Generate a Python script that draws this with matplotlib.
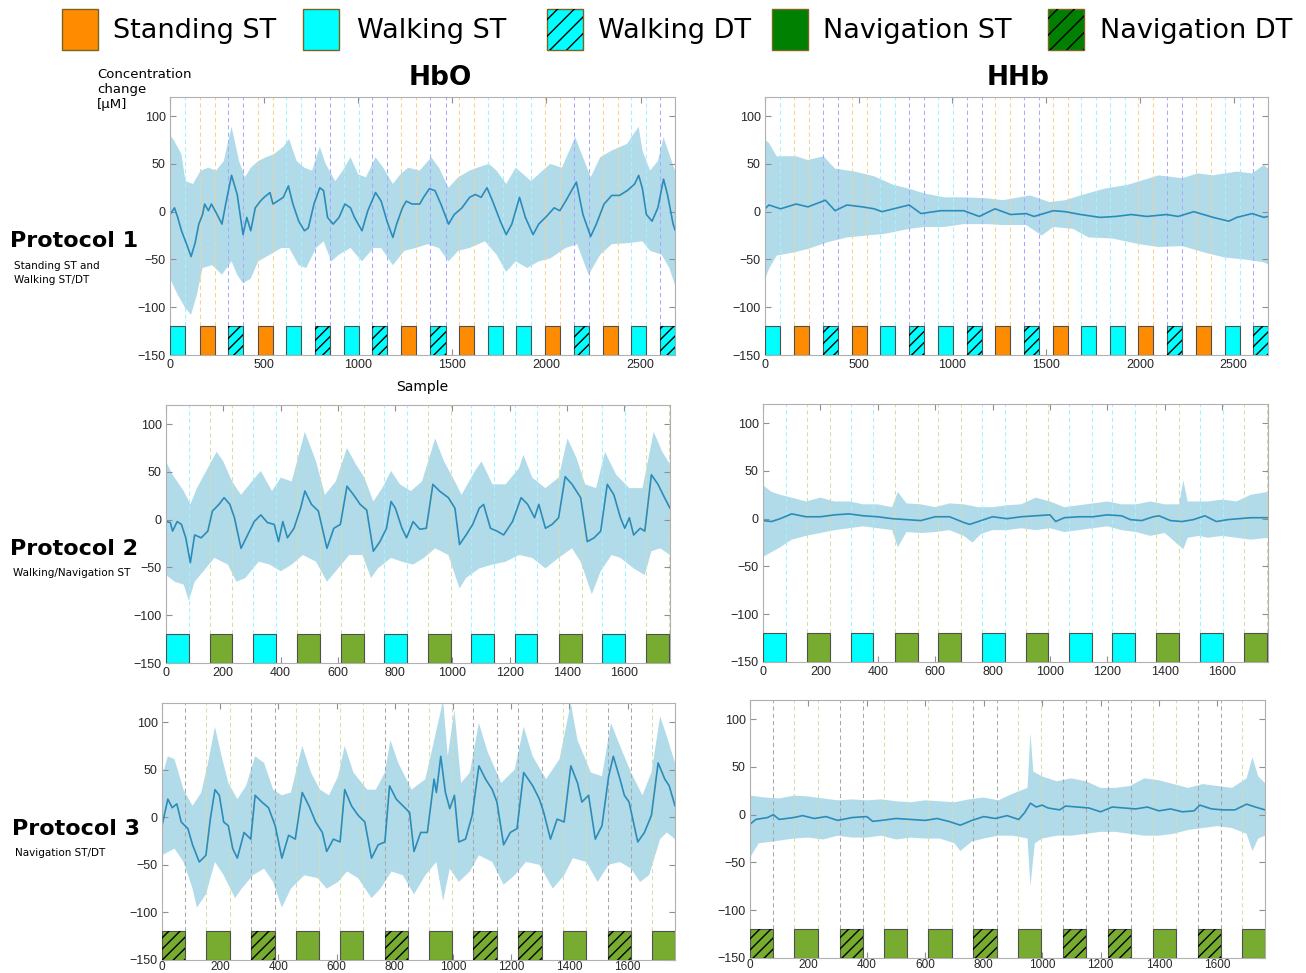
import numpy as np
import matplotlib
matplotlib.use("Agg")
import matplotlib.pyplot as plt
from matplotlib.patches import Rectangle

# ---- block design (onset samples, condition codes) ----
block_len = 80
p1_onsets = [0, 157, 310, 465, 616, 769, 922, 1075, 1229, 1384, 1537, 1688,
             1839, 1992, 2145, 2298, 2451, 2603]
p1_kinds = ['W', 'S', 'WD', 'S', 'W', 'WD', 'W', 'WD', 'S', 'WD', 'S', 'W',
            'W', 'S', 'WD', 'S', 'W', 'WD']
p2_onsets = [0, 152, 305, 459, 610, 763, 915, 1066, 1217, 1371, 1522, 1676]
p2_kinds = ['W', 'N', 'W', 'N', 'N', 'W', 'N', 'W', 'W', 'N', 'W', 'N']
p3_onsets = [0, 152, 307, 459, 611, 765, 917, 1070, 1225, 1378, 1532, 1683]
p3_kinds = ['ND', 'N', 'ND', 'N', 'N', 'ND', 'N', 'ND', 'ND', 'N', 'ND', 'N']

# ---- Protocol 1, HbO ----
p1_hbo_x = [0, 24, 41, 61, 92, 112, 133, 153, 173, 184, 204, 220, 245, 276, 296,
            327, 357, 388, 408, 429, 453, 480, 500, 531, 547, 571, 602, 629, 653,
            684, 714, 735, 765, 796, 816, 837, 867, 898, 929, 959, 980, 1020, 1051,
            1092, 1122, 1153, 1184, 1204, 1235, 1255, 1286, 1327, 1347, 1378, 1408,
            1439, 1480, 1510, 1551, 1592, 1622, 1653, 1684, 1714, 1755, 1786, 1816,
            1857, 1888, 1929, 1959, 2000, 2041, 2071, 2102, 2159, 2194, 2235, 2265,
            2306, 2347, 2388, 2429, 2469, 2490, 2510, 2531, 2561, 2592, 2622, 2643,
            2673, 2683]
p1_hbo_mean = [-3, 4, -6, -20, -36, -47, -33, -13, -3, 8, 1, 8, -1, -13, 8, 38, 18,
               -24, -6, -20, 4, 11, 15, 20, 8, 11, 15, 27, 8, -10, -20, -17, 8, 25,
               22, -6, -13, -6, 8, 4, -6, -20, 1, 20, 11, -10, -27, -13, 4, 11, 8, 8,
               15, 24, 22, 8, -13, -3, 4, 15, 18, 15, 25, 11, -10, -24, -13, 15, -6,
               -24, -13, -5, 4, 1, 11, 31, -3, -26, -13, 8, 17, 17, 22, 29, 38, 24,
               -3, -10, 4, 34, 18, -13, -19]
p1_hbo_ux = [0, 20, 61, 82, 122, 163, 204, 245, 286, 327, 367, 398, 429, 469, 510,
             551, 602, 633, 673, 714, 755, 796, 827, 878, 918, 959, 1000, 1041, 1092,
             1133, 1184, 1224, 1265, 1327, 1388, 1429, 1480, 1531, 1592, 1633, 1694,
             1735, 1786, 1837, 1878, 1918, 1980, 2020, 2082, 2153, 2194, 2235, 2286,
             2347, 2429, 2490, 2510, 2551, 2592, 2622, 2653, 2683]
p1_hbo_hi = [80, 75, 60, 32, 29, 43, 46, 43, 53, 89, 53, 36, 46, 53, 57, 60, 68, 76,
             53, 46, 43, 68, 50, 32, 43, 57, 39, 36, 57, 46, 29, 39, 46, 43, 57, 46,
             25, 36, 43, 46, 50, 43, 29, 46, 39, 32, 43, 50, 46, 78, 57, 36, 57, 64,
             71, 89, 64, 43, 53, 78, 60, 43]
p1_hbo_lx = [0, 41, 82, 112, 143, 173, 224, 276, 327, 357, 388, 429, 469, 531, 592,
             633, 684, 724, 776, 816, 857, 898, 959, 1020, 1082, 1122, 1184, 1245,
             1306, 1367, 1429, 1480, 1531, 1592, 1673, 1735, 1786, 1837, 1898, 1959,
             2020, 2102, 2163, 2224, 2286, 2347, 2429, 2510, 2551, 2612, 2653, 2683]
p1_hbo_lo = [-70, -87, -101, -108, -87, -59, -56, -66, -52, -66, -75, -70, -52, -45,
             -38, -38, -56, -59, -38, -31, -52, -45, -38, -52, -38, -38, -56, -41,
             -38, -34, -38, -52, -41, -38, -31, -45, -63, -52, -59, -52, -49, -38,
             -34, -66, -45, -34, -33, -31, -41, -45, -59, -77]

# ---- Protocol 1, HHb ----
p1_hhb_x = [0, 21, 83, 166, 229, 322, 374, 437, 520, 582, 624, 686, 769, 832, 936,
            1060, 1143, 1227, 1310, 1393, 1435, 1538, 1601, 1684, 1788, 1871, 1954,
            2037, 2141, 2204, 2287, 2391, 2474, 2516, 2599, 2661, 2683]
p1_hhb_mean = [3, 7, 3, 8, 5, 12, 1, 7, 5, 3, 0, 3, 7, -2, 1, 1, -5, 3, -3, -2, -5,
               1, 0, -3, -6, -5, -3, -5, -3, -5, 0, -6, -10, -6, -2, -6, -5]
p1_hhb_ux = [0, 21, 62, 166, 229, 312, 374, 478, 582, 686, 769, 852, 956, 1060, 1185,
             1268, 1414, 1518, 1601, 1684, 1809, 1933, 2100, 2225, 2308, 2391, 2516,
             2599, 2661, 2683]
p1_hhb_hi = [75, 72, 58, 58, 54, 58, 45, 42, 37, 28, 24, 19, 15, 15, 14, 12, 17, 10,
             12, 17, 24, 28, 38, 35, 40, 38, 42, 40, 49, 45]
p1_hhb_lx = [0, 21, 62, 146, 229, 333, 437, 541, 644, 769, 852, 956, 1060, 1185,
             1268, 1393, 1476, 1538, 1643, 1726, 1850, 1996, 2100, 2225, 2349, 2453,
             2557, 2661, 2683]
p1_hhb_lo = [-71, -60, -46, -43, -39, -32, -27, -25, -23, -18, -16, -16, -13, -13,
             -14, -14, -25, -16, -18, -27, -28, -34, -37, -36, -43, -48, -50, -53, -55]

# ---- Protocol 2, HbO ----
p2_hbo_x = [0, 15, 23, 39, 54, 69, 85, 100, 123, 146, 162, 185, 203, 223, 239, 262,
            285, 308, 331, 354, 378, 393, 408, 424, 447, 470, 485, 508, 532, 562, 586,
            609, 632, 655, 678, 701, 724, 747, 770, 786, 801, 824, 840, 863, 886, 909,
            932, 955, 986, 1009, 1025, 1048, 1071, 1094, 1109, 1133, 1156, 1179, 1210,
            1240, 1263, 1287, 1302, 1325, 1348, 1371, 1394, 1418, 1448, 1471, 1495,
            1518, 1541, 1564, 1587, 1602, 1618, 1633, 1656, 1672, 1695, 1718, 1741, 1760]
p2_hbo_mean = [-2, -3, -12, -2, -5, -19, -45, -16, -19, -12, 9, 16, 23, 16, 2, -30,
               -16, -2, 5, -3, -5, -23, -2, -19, -9, 12, 30, 16, 9, -30, -9, -5, 35,
               26, 16, 10, -33, -23, -9, 19, 12, -9, -19, -2, -10, -9, 37, 30, 23, 12,
               -26, -16, -5, 12, 16, -9, -12, -16, -2, 23, 16, 2, 16, -9, -5, 2, 45,
               37, 23, -23, -19, -12, 37, 26, 2, -9, 2, -16, -9, -12, 47, 37, 23, 12]
p2_hbo_ux = [0, 23, 62, 85, 108, 146, 177, 200, 231, 262, 300, 331, 370, 401, 439, 485,
             524, 555, 593, 632, 663, 693, 724, 755, 786, 817, 855, 894, 940, 971, 1009,
             1032, 1079, 1102, 1140, 1186, 1233, 1248, 1279, 1325, 1371, 1402, 1433,
             1464, 1502, 1533, 1572, 1618, 1664, 1703, 1733, 1760]
p2_hbo_hi = [61, 47, 30, 16, 33, 54, 71, 61, 40, 26, 40, 51, 30, 44, 40, 92, 61, 26,
             40, 75, 58, 44, 19, 33, 51, 37, 30, 40, 85, 61, 40, 26, 51, 61, 37, 37,
             54, 68, 44, 33, 44, 85, 65, 37, 33, 71, 47, 33, 33, 92, 71, 58]
p2_hbo_lx = [0, 31, 62, 80, 100, 139, 169, 216, 246, 277, 324, 362, 401, 439, 478, 524,
             562, 601, 640, 686, 716, 740, 786, 824, 863, 901, 940, 986, 1025, 1048,
             1094, 1140, 1186, 1233, 1279, 1325, 1371, 1418, 1448, 1487, 1518, 1556,
             1587, 1633, 1672, 1695, 1726, 1760]
p2_hbo_lo = [-58, -65, -68, -85, -65, -51, -40, -47, -65, -61, -44, -47, -54, -47,
             -37, -44, -65, -51, -37, -37, -61, -51, -40, -44, -47, -40, -30, -37,
             -72, -61, -51, -47, -44, -37, -40, -51, -40, -30, -44, -78, -54, -37,
             -40, -51, -58, -33, -30, -37]

# ---- Protocol 2, HHb ----
p2_hhb_x = [0, 30, 60, 100, 150, 200, 250, 300, 350, 400, 450, 500, 550, 600, 650,
            700, 720, 760, 800, 850, 900, 950, 1000, 1020, 1050, 1100, 1150, 1200,
            1250, 1280, 1320, 1360, 1380, 1420, 1460, 1500, 1540, 1580, 1620, 1660,
            1700, 1760]
p2_hhb_mean = [-2, -3, 0, 5, 2, 2, 4, 5, 3, 2, 0, -1, -2, 2, 2, -4, -6, -2, 2, 0, 2,
               3, 4, -3, 1, 2, 2, 4, 3, -1, -2, 2, 3, -2, -3, -1, 3, -3, -1, 0, 1, 1]
p2_hhb_ux = [0, 30, 60, 100, 150, 200, 250, 300, 350, 400, 450, 470, 500, 550, 600,
             650, 700, 750, 800, 850, 900, 950, 1000, 1050, 1100, 1150, 1200, 1250,
             1300, 1350, 1400, 1450, 1465, 1480, 1550, 1600, 1650, 1700, 1760]
p2_hhb_hi = [35, 28, 25, 22, 18, 22, 18, 18, 15, 15, 12, 28, 16, 15, 12, 16, 15, 12,
             12, 14, 15, 22, 18, 12, 14, 16, 18, 15, 15, 18, 15, 15, 40, 18, 18, 20,
             18, 25, 28]
p2_hhb_lx = [0, 30, 60, 100, 150, 200, 250, 300, 350, 400, 450, 470, 500, 550, 600,
             650, 700, 730, 760, 800, 850, 900, 950, 1000, 1050, 1100, 1150, 1200,
             1250, 1300, 1350, 1400, 1465, 1480, 1520, 1550, 1600, 1650, 1700, 1760]
p2_hhb_lo = [-40, -35, -30, -22, -18, -15, -12, -10, -8, -10, -12, -30, -14, -15,
             -14, -12, -18, -25, -16, -12, -12, -10, -12, -10, -14, -12, -10, -8,
             -12, -14, -18, -15, -32, -20, -18, -20, -18, -20, -22, -20]

# ---- Protocol 3, HbO ----
p3_hbo_x = [0, 20, 35, 51, 66, 89, 105, 128, 151, 166, 182, 197, 212, 228, 243, 259,
            282, 305, 320, 343, 366, 389, 412, 435, 458, 482, 505, 528, 551, 566, 589,
            612, 628, 651, 674, 697, 720, 743, 766, 782, 805, 828, 851, 866, 889, 912,
            935, 943, 958, 974, 989, 1005, 1020, 1043, 1066, 1089, 1112, 1135, 1151,
            1174, 1197, 1220, 1243, 1274, 1297, 1312, 1335, 1358, 1382, 1405, 1428,
            1443, 1466, 1489, 1512, 1535, 1551, 1574, 1589, 1605, 1635, 1658, 1682,
            1705, 1728, 1743, 1763]
p3_hbo_mean = [-9, 19, 10, 14, -5, -12, -29, -47, -40, -2, 29, 23, -5, -9, -33, -43,
               -16, -23, 23, 16, 10, -9, -43, -19, -23, 26, 12, -5, -16, -36, -23,
               -26, 29, 12, 2, -5, -43, -29, -26, 33, 19, 12, 5, -36, -16, -16, 40,
               26, 64, 26, 9, 23, -26, -23, 2, 54, 40, 29, 16, -29, -16, -12, 47, 33,
               19, 5, -23, -2, -5, 54, 36, 16, 23, -23, -9, 43, 64, 40, 23, 16, -26,
               -16, 2, 57, 40, 33, 12]
p3_hbo_ux = [0, 20, 43, 74, 105, 135, 158, 182, 205, 228, 259, 289, 320, 351, 382, 412,
             443, 482, 512, 543, 574, 605, 628, 658, 705, 735, 766, 785, 812, 858, 905,
             951, 966, 982, 1005, 1028, 1058, 1089, 1120, 1166, 1212, 1243, 1274, 1320,
             1366, 1405, 1428, 1474, 1512, 1543, 1574, 1612, 1651, 1682, 1712, 1735, 1763]
p3_hbo_hi = [43, 64, 61, 29, 12, 26, 57, 95, 64, 36, 19, 33, 64, 57, 29, 23, 26, 75,
             47, 29, 23, 43, 75, 47, 29, 29, 47, 81, 57, 29, 40, 102, 123, 64, 113, 36,
             47, 99, 68, 36, 50, 95, 64, 40, 61, 120, 81, 47, 43, 99, 75, 47, 23, 47,
             106, 85, 57]
p3_hbo_lx = [0, 43, 74, 105, 120, 151, 182, 212, 251, 274, 312, 351, 382, 412, 443,
             489, 535, 566, 605, 636, 674, 720, 751, 789, 828, 866, 905, 943, 966, 989,
             1020, 1058, 1089, 1135, 1174, 1212, 1251, 1297, 1343, 1382, 1412, 1458,
             1497, 1535, 1574, 1612, 1643, 1674, 1712, 1735, 1763]
p3_hbo_lo = [-40, -33, -47, -75, -95, -81, -47, -61, -85, -75, -61, -54, -68, -95,
             -75, -61, -64, -75, -68, -57, -64, -85, -75, -57, -61, -81, -61, -47,
             -88, -54, -68, -57, -40, -47, -71, -61, -47, -50, -75, -61, -43, -47,
             -68, -50, -47, -54, -68, -61, -23, -16, -23]

# ---- Protocol 3, HHb ----
p3_hhb_x = [0, 20, 60, 80, 100, 150, 180, 220, 260, 300, 350, 400, 420, 450, 500, 550,
            600, 640, 680, 720, 760, 800, 840, 880, 920, 940, 960, 980, 1000, 1020,
            1060, 1080, 1120, 1160, 1200, 1240, 1280, 1320, 1360, 1400, 1440, 1480,
            1520, 1540, 1580, 1620, 1660, 1700, 1730, 1763]
p3_hhb_mean = [-10, -5, -3, 0, -5, -3, -1, -4, -2, -6, -3, -2, -7, -6, -4, -5, -6, -4,
               -7, -11, -6, -2, -4, -1, -5, 2, 12, 8, 10, 7, 5, 9, 8, 7, 3, 8, 7, 6,
               8, 4, 6, 3, 4, 10, 6, 5, 5, 11, 8, 5]
p3_hhb_ux = [0, 50, 100, 150, 200, 250, 300, 350, 400, 450, 500, 550, 600, 650, 700,
             750, 800, 850, 900, 950, 960, 970, 1000, 1050, 1100, 1150, 1200, 1250,
             1300, 1350, 1400, 1450, 1500, 1550, 1600, 1650, 1700, 1720, 1740, 1763]
p3_hhb_hi = [20, 18, 17, 20, 19, 17, 15, 16, 15, 16, 14, 13, 15, 14, 13, 16, 18, 15,
             22, 28, 85, 45, 40, 35, 38, 35, 28, 28, 30, 38, 36, 32, 28, 32, 30, 28,
             38, 60, 40, 33]
p3_hhb_lx = [0, 30, 80, 150, 200, 250, 300, 350, 400, 450, 500, 550, 600, 650, 700,
             720, 760, 800, 850, 900, 950, 960, 975, 1000, 1050, 1100, 1150, 1200, 1250,
             1300, 1350, 1400, 1450, 1500, 1550, 1600, 1650, 1700, 1720, 1740, 1763]
p3_hhb_lo = [-45, -30, -28, -25, -24, -26, -22, -24, -24, -22, -26, -24, -25, -25,
             -30, -38, -28, -25, -22, -22, -25, -75, -30, -25, -22, -22, -20, -18,
             -18, -20, -22, -22, -20, -16, -14, -12, -14, -20, -38, -25, -22]

# ---- styles ----
BAR_COLOR = {'S': '#ff8c00', 'W': '#00ffff', 'WD': '#00ffff',
             'N': '#77ac30', 'ND': '#77ac30'}
BAR_HATCH = {'S': None, 'W': None, 'WD': '///', 'N': None, 'ND': '///'}
VLINE_COLOR = {'S': '#f8d090', 'W': '#a0f4ff', 'WD': '#a8a8ff',
               'N': '#d6dcaa', 'ND': '#a8a8a8'}
LINE_COLOR = '#2c8cb8'
BAND_COLOR = '#b2dbea'

plt.rcParams['font.family'] = ['DejaVu Sans']
plt.rcParams['hatch.linewidth'] = 1.0

fig = plt.figure(figsize=(13.06, 9.73), dpi=100)
W, H = 1306, 973


def px_axes(left, top, right, bottom):
    return fig.add_axes([left / W, 1 - bottom / H, (right - left) / W, (bottom - top) / H])


def draw_panel(ax, onsets, kinds, mx, my, ux, uy, lx, ly, xmax, xticks):
    for on, k in zip(onsets, kinds):
        for xv in (on, on + block_len):
            ax.axvline(xv, color=VLINE_COLOR[k], lw=0.75, ls=(0, (4, 3)), zorder=1.5)
    ax.fill(list(ux) + list(lx)[::-1], list(uy) + list(ly)[::-1],
            color=BAND_COLOR, lw=0, zorder=1)
    ax.plot(mx, my, color=LINE_COLOR, lw=1.2, zorder=2)
    ax.bar(onsets, 30, width=block_len, bottom=-150, align='edge',
           color=[BAR_COLOR[k] for k in kinds], edgecolor='#505050', lw=0.8,
           zorder=3)
    for on, k in zip(onsets, kinds):
        if BAR_HATCH[k]:
            ax.add_patch(Rectangle((on, -150), block_len, 30, facecolor='none',
                                   edgecolor='black', lw=0, hatch=BAR_HATCH[k],
                                   zorder=3.5))
    ax.set_xlim(0, xmax)
    ax.set_ylim(-150, 120)
    ax.set_xticks(xticks)
    ax.set_yticks([-150, -100, -50, 0, 50, 100])
    ax.tick_params(direction='in', length=4, top=True, right=True, color='#909090',
                   labelcolor='#262626', labelsize=9, pad=3)
    for lab in ax.get_xticklabels() + ax.get_yticklabels():
        lab.set_family('Liberation Sans')
    for sp in ax.spines.values():
        sp.set_color('#b0b0b0')
        sp.set_linewidth(0.8)


t1 = [0, 500, 1000, 1500, 2000, 2500]
t2 = [0, 200, 400, 600, 800, 1000, 1200, 1400, 1600]

ax = px_axes(170, 97, 675, 355)
draw_panel(ax, p1_onsets, p1_kinds, p1_hbo_x, p1_hbo_mean, p1_hbo_ux, p1_hbo_hi,
           p1_hbo_lx, p1_hbo_lo, 2683, t1)
ax.set_xlabel('Sample', fontsize=10, labelpad=6)
ax = px_axes(765, 97, 1268, 355)
draw_panel(ax, p1_onsets, p1_kinds, p1_hhb_x, p1_hhb_mean, p1_hhb_ux, p1_hhb_hi,
           p1_hhb_lx, p1_hhb_lo, 2683, t1)
ax = px_axes(166, 405, 670, 663)
draw_panel(ax, p2_onsets, p2_kinds, p2_hbo_x, p2_hbo_mean, p2_hbo_ux, p2_hbo_hi,
           p2_hbo_lx, p2_hbo_lo, 1760, t2)
ax = px_axes(763, 404, 1268, 662)
draw_panel(ax, p2_onsets, p2_kinds, p2_hhb_x, p2_hhb_mean, p2_hhb_ux, p2_hhb_hi,
           p2_hhb_lx, p2_hhb_lo, 1760, t2)
ax = px_axes(162, 703, 675, 960)
draw_panel(ax, p3_onsets, p3_kinds, p3_hbo_x, p3_hbo_mean, p3_hbo_ux, p3_hbo_hi,
           p3_hbo_lx, p3_hbo_lo, 1763, t2)
ax.tick_params(axis='x', pad=1, labelsize=8.5)
ax = px_axes(750, 700, 1265, 958)
draw_panel(ax, p3_onsets, p3_kinds, p3_hhb_x, p3_hhb_mean, p3_hhb_ux, p3_hhb_hi,
           p3_hhb_lx, p3_hhb_lo, 1763, t2)
ax.tick_params(axis='x', pad=1, labelsize=8.5)


def ftext(x, y, s, **kw):
    fig.text(x / W, 1 - y / H, s, **kw)


# column titles and y-axis label
ftext(440, 78, 'HbO', fontsize=19, fontweight='bold', ha='center', va='center')
ftext(1018, 78, 'HHb', fontsize=19, fontweight='bold', ha='center', va='center')
ftext(97, 68, 'Concentration\nchange\n[μM]', fontsize=9.5, ha='left', va='top',
      linespacing=1.2)

# row labels
rows = [('Protocol 1', 'Standing ST and\nWalking ST/DT', 10, 241, 14, 273),
        ('Protocol 2', 'Walking/Navigation ST', 10, 549, 13, 573),
        ('Protocol 3', 'Navigation ST/DT', 12, 829, 15, 853)]
for title, sub, tx, ty, sx, sy in rows:
    ftext(tx, ty, title, fontsize=16, fontweight='bold', ha='left', va='center')
    ftext(sx, sy, sub, fontsize=7.5, ha='left', va='center', linespacing=1.6)

# legend
legend_items = [('Standing ST', '#ff8c00', None, 62, 113),
                ('Walking ST', '#00ffff', None, 303, 357),
                ('Walking DT', '#00ffff', '//', 547, 598),
                ('Navigation ST', '#008000', None, 772, 823),
                ('Navigation DT', '#008000', '//', 1048, 1100)]
for name, col, hatch, px, tx in legend_items:
    fig.add_artist(Rectangle((px / W, 1 - 50 / H), 36 / W, 41 / H,
                             transform=fig.transFigure, facecolor=col,
                             edgecolor='#7a6420', lw=1.0))
    if hatch:
        fig.add_artist(Rectangle((px / W, 1 - 50 / H), 36 / W, 41 / H,
                                 transform=fig.transFigure, facecolor='none',
                                 edgecolor='black', lw=0, hatch=hatch))
    ftext(tx, 31, name, fontsize=19.5, ha='left', va='center')

fig.savefig('out.png', dpi=100)
